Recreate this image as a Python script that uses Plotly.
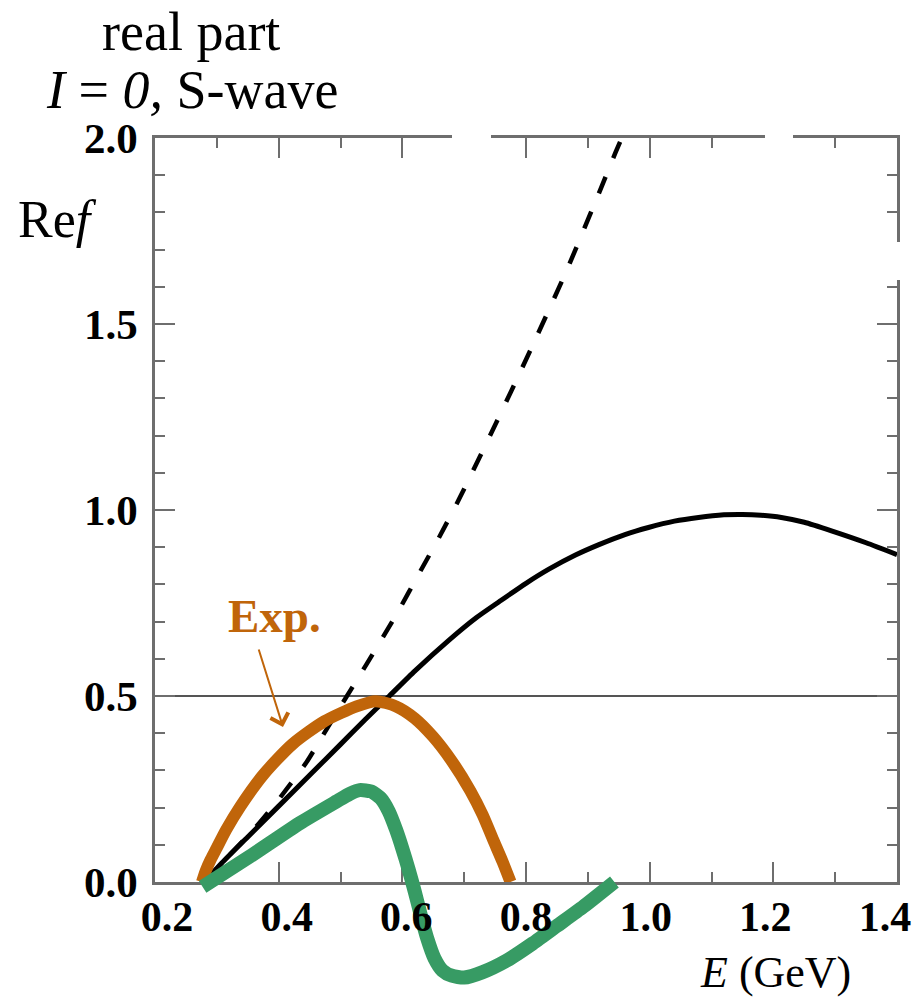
import plotly.graph_objects as go

W, H = 913, 997

# ---------------- data ----------------
E_solid = [0.28, 0.308, 0.35, 0.40, 0.45, 0.50, 0.54, 0.579, 0.62, 0.676, 0.72, 0.757,
           0.80, 0.837, 0.88, 0.918, 0.96, 0.998, 1.04, 1.079, 1.12, 1.15, 1.18, 1.213,
           1.25, 1.294, 1.35, 1.40]
F_solid = [0.0, 0.051, 0.121, 0.204, 0.287, 0.37, 0.437, 0.50, 0.567, 0.651, 0.711, 0.754,
           0.803, 0.841, 0.879, 0.907, 0.934, 0.953, 0.970, 0.980, 0.987, 0.988, 0.986, 0.980,
           0.967, 0.944, 0.912, 0.880]

E_dash = [0.28, 0.32, 0.36, 0.40, 0.445, 0.47, 0.503, 0.542, 0.59, 0.63, 0.66, 0.692,
          0.752, 0.81, 0.866, 0.918, 0.945, 0.96]
F_dash = [0.0, 0.072, 0.142, 0.222, 0.322, 0.39, 0.48, 0.585, 0.718, 0.838, 0.928, 1.03,
          1.235, 1.44, 1.645, 1.852, 1.962, 2.02]

E_exp = [0.276, 0.282, 0.29, 0.30, 0.315, 0.338, 0.375, 0.422, 0.474, 0.526, 0.557,
         0.59, 0.62, 0.65, 0.68, 0.71, 0.73, 0.747, 0.762, 0.775]
F_exp = [0.0, 0.03, 0.06, 0.092, 0.14, 0.203, 0.288, 0.37, 0.432, 0.472, 0.486,
         0.472, 0.44, 0.39, 0.325, 0.245, 0.18, 0.113, 0.055, 0.0]

E_green = [0.277, 0.353, 0.434, 0.493, 0.515, 0.531, 0.55, 0.565, 0.578, 0.59, 0.60,
           0.61, 0.62, 0.63, 0.64, 0.652, 0.665, 0.68, 0.70, 0.729, 0.77, 0.811, 0.85,
           0.893, 0.943]
F_green = [-0.013, 0.068, 0.158, 0.216, 0.237, 0.247, 0.243, 0.225, 0.19, 0.14, 0.09,
           0.035, -0.025, -0.09, -0.15, -0.205, -0.238, -0.252, -0.257, -0.243, -0.21, -0.165, -0.118,
           -0.066, 0.0]

x_ticks = [0.2, 0.4, 0.6, 0.8, 1.0, 1.2, 1.4]
x_ticktext = ["0.2", "0.4", "0.6", "0.8", "1.0", "1.2", "1.4"]
y_ticks = [0.0, 0.5, 1.0, 1.5, 2.0]
y_ticktext = ["0.0", "0.5", "1.0", "1.5", "2.0"]

ORANGE = "#C0650A"
GREEN = "#379B64"
AXC = "#6e6e6e"
FONT = "Liberation Serif"

# ---------------- geometry ----------------
px_left, px_right, px_top, px_bot = 155, 897, 138, 882
xdom = [px_left / W, px_right / W]
ydom = [1 - px_bot / H, 1 - px_top / H]
# tick labels of the original sit on a slightly compressed scale
xlab_dom = [167 / W, 885 / W]
y_min2 = -0.3
per_unit = (ydom[1] - ydom[0]) / 2.0
ydom2 = [ydom[0] + y_min2 * per_unit, ydom[1]]

fig = go.Figure()

fig.add_trace(go.Scatter(x=E_dash, y=F_dash, mode="lines", xaxis="x", yaxis="y",
                         line=dict(color="black", width=4.5, dash="18px,20px", shape="spline", smoothing=0.6),
                         showlegend=False, hoverinfo="skip"))
fig.add_trace(go.Scatter(x=E_solid, y=F_solid, mode="lines", xaxis="x", yaxis="y",
                         line=dict(color="black", width=5, shape="spline", smoothing=0.6),
                         showlegend=False, hoverinfo="skip"))
fig.add_trace(go.Scatter(x=E_exp, y=F_exp, mode="lines", xaxis="x", yaxis="y",
                         line=dict(color=ORANGE, width=12, shape="spline", smoothing=0.7),
                         showlegend=False, hoverinfo="skip"))
# empty carrier trace so that the tick-label axis x3 is drawn
fig.add_trace(go.Scatter(x=x_ticks, y=[None] * len(x_ticks), mode="lines", xaxis="x3", yaxis="y4",
                         showlegend=False, hoverinfo="skip"))
fig.add_trace(go.Scatter(x=E_green, y=F_green, mode="lines", xaxis="x2", yaxis="y2",
                         line=dict(color=GREEN, width=14, shape="spline", smoothing=0.6),
                         showlegend=False, hoverinfo="skip"))

axis_common = dict(showline=True, linecolor=AXC, linewidth=2.5, mirror="ticks",
                   ticks="inside", ticklen=20, tickwidth=2, tickcolor=AXC,
                   showgrid=False, zeroline=False, automargin=False)

fig.update_layout(
    width=W, height=H, margin=dict(l=0, r=0, t=0, b=0, autoexpand=False),
    paper_bgcolor="white", plot_bgcolor="rgba(0,0,0,0)",
    xaxis=dict(domain=xdom, range=[0.2, 1.4], tickvals=x_ticks, showticklabels=False,
               minor=dict(dtick=0.1, tick0=0.2, ticklen=10, tickwidth=2, tickcolor=AXC, ticks="inside"),
               anchor="y", **axis_common),
    xaxis3=dict(domain=xlab_dom, range=[0.2, 1.4], tickvals=x_ticks, ticktext=x_ticktext,
                tickfont=dict(family=FONT, size=42, color="black", weight="bold"),
                showline=False, ticks="", showgrid=False, zeroline=False, automargin=False,
                anchor="y4", ticklabeloverflow="allow", ticklabelstandoff=6),
    yaxis4=dict(domain=ydom, range=[0, 2], visible=False, anchor="x3", automargin=False),
    yaxis=dict(domain=ydom, range=[0, 2], tickvals=y_ticks, ticktext=y_ticktext,
               tickfont=dict(family=FONT, size=43, color="black", weight="bold"),
               minor=dict(dtick=0.1, tick0=0.0, ticklen=10, tickwidth=2, tickcolor=AXC, ticks="inside"),
               anchor="x", ticklabelstandoff=6, **axis_common),
    xaxis2=dict(domain=xdom, range=[0.2, 1.4], visible=False, anchor="y2", automargin=False),
    yaxis2=dict(domain=ydom2, range=[y_min2, 2], visible=False, anchor="x2", automargin=False),
)

# horizontal reference line at 0.5
fig.add_shape(type="line", xref="x domain", yref="y", x0=0, x1=1, y0=0.5, y1=0.5,
              line=dict(color="#555555", width=1.8), layer="below")

# white masks (gaps in the frame seen in the original)
for (x0, x1, y0, y1) in [(452, 491, 128, 168), (765, 793, 128, 168), (872, 913, 242, 280)]:
    fig.add_shape(type="rect", xref="paper", yref="paper", x0=x0 / W, x1=x1 / W,
                  y0=1 - y1 / H, y1=1 - y0 / H, fillcolor="white", line=dict(width=0),
                  layer="above")

def ann(text, cx, cy, size, color="black", yanchor="middle", **kw):
    fig.add_annotation(text=text, x=cx / W, y=1 - cy / H, xref="paper", yref="paper",
                       showarrow=False, xanchor="center", yanchor=yanchor,
                       font=dict(family=FONT, size=size, color=color, **kw))

ann("real part", 191, 0, 54, yanchor="top")
ann("<i>I</i> = <i>0,</i> S-wave", 192, 90, 54)
ann("Re<i>f</i>", 57, 220, 52)
ann("<i>E</i> (GeV)", 775, 972, 44)
ann("<b>Exp.</b>", 274, 616, 47, color=ORANGE)

# arrow pointing to the experimental curve
fig.add_annotation(x=0.407, y=0.417, xref="x", yref="y", ax=0.367, ay=0.629,
                   axref="x", ayref="y", text="", showarrow=True, arrowhead=4,
                   arrowsize=1.8, arrowwidth=2, arrowcolor=ORANGE)

fig.write_html("out.html")
